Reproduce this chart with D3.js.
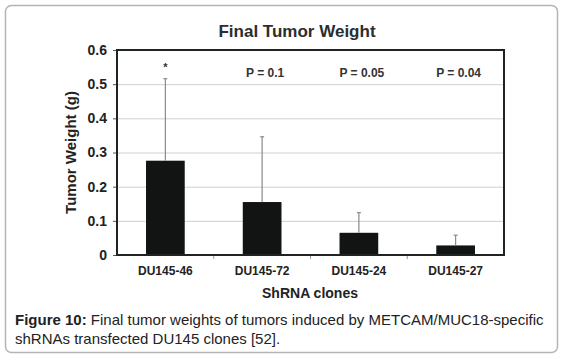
<!DOCTYPE html>
<html>
<head>
<meta charset="utf-8">
<script src="https://cdn.jsdelivr.net/npm/d3@7"></script>
<style>
  html, body { margin: 0; padding: 0; background: #fff; }
  svg { display: block; font-family: "Liberation Sans", Arial, sans-serif; }
</style>
</head>
<body>
<svg id="chart" width="565" height="363"></svg>
<script>
// ---- data ----
const categories = ["DU145-46", "DU145-72", "DU145-24", "DU145-27"];
const meanWeights = [0.276, 0.155, 0.065, 0.028];
const errorUpper = [0.240, 0.191, 0.059, 0.030];
const pLabels = ["*", "P = 0.1", "P = 0.05", "P = 0.04"];
const yTicks = [0, 0.1, 0.2, 0.3, 0.4, 0.5, 0.6];
const yTickLabels = ["0", "0.1", "0.2", "0.3", "0.4", "0.5", "0.6"];
const titleText = "Final Tumor Weight";
const xTitle = "ShRNA clones";
const yTitle = "Tumor Weight (g)";

const svg = d3.select("#chart");
const plot = { left: 117, right: 504, top: 50, bottom: 255 };

// outer rounded frame
svg.append("rect")
  .attr("x", 5.5).attr("y", 5.5)
  .attr("width", 552).attr("height", 347)
  .attr("rx", 6).attr("ry", 6)
  .attr("fill", "#fff")
  .attr("stroke", "#b4b4b4").attr("stroke-width", 1.5);

const x = d3.scaleBand()
  .domain(categories)
  .range([plot.left, plot.right])
  .paddingInner(0.6).paddingOuter(0.3);

const y = d3.scaleLinear().domain([0, 0.6]).range([plot.bottom, plot.top]);

// gridlines
svg.append("g").selectAll("line")
  .data(yTicks.filter(t => t > 0 && t < 0.6))
  .join("line")
  .attr("x1", plot.left).attr("x2", plot.right)
  .attr("y1", d => y(d) + 0.5).attr("y2", d => y(d) + 0.5)
  .attr("stroke", "#cfcfcf").attr("stroke-width", 1);

// bars
svg.append("g").selectAll("rect")
  .data(categories)
  .join("rect")
  .attr("x", d => x(d))
  .attr("y", (d, i) => y(meanWeights[i]))
  .attr("width", x.bandwidth())
  .attr("height", (d, i) => y(0) - y(meanWeights[i]))
  .attr("fill", "#121414");

// error bars
const eb = svg.append("g").attr("stroke", "#8a8a8a").attr("stroke-width", 1.2);
categories.forEach((c, i) => {
  const cx = x(c) + x.bandwidth() / 2;
  const top = y(meanWeights[i] + errorUpper[i]);
  eb.append("line")
    .attr("x1", cx).attr("x2", cx)
    .attr("y1", y(meanWeights[i])).attr("y2", top);
  eb.append("line")
    .attr("x1", cx - 2).attr("x2", cx + 2)
    .attr("y1", top).attr("y2", top);
});

// left axis
const yAxis = d3.axisLeft(y)
  .tickValues(yTicks)
  .tickFormat((d, i) => yTickLabels[i])
  .tickSize(4).tickPadding(6);
const gy = svg.append("g").attr("transform", `translate(${plot.left},0)`).call(yAxis);
gy.select(".domain").remove();
gy.selectAll(".tick line").attr("stroke", "#555");
gy.selectAll(".tick text")
  .attr("font-family", "Liberation Sans, Arial, sans-serif")
  .attr("font-size", 14).attr("font-weight", "bold").attr("fill", "#222");

// bottom axis
const xAxis = d3.axisBottom(x).tickSize(0).tickPadding(11);
const gx = svg.append("g").attr("transform", `translate(0,${plot.bottom})`).call(xAxis);
gx.select(".domain").remove();
gx.selectAll(".tick text")
  .attr("font-family", "Liberation Sans, Arial, sans-serif")
  .attr("font-size", 12).attr("font-weight", "bold").attr("fill", "#222");

// category separator ticks on bottom
const step = x.step();
const seps = categories.slice(1).map(c => x(c) - step * x.paddingInner() / 2);
svg.append("g").selectAll("line")
  .data(seps)
  .join("line")
  .attr("x1", d => d).attr("x2", d => d)
  .attr("y1", plot.bottom).attr("y2", plot.bottom + 4)
  .attr("stroke", "#999").attr("stroke-width", 1);

// plot frame
svg.append("rect")
  .attr("x", plot.left).attr("y", plot.top)
  .attr("width", plot.right - plot.left)
  .attr("height", plot.bottom - plot.top)
  .attr("fill", "none")
  .attr("stroke", "#1e2424").attr("stroke-width", 2);

// p-value labels
svg.append("g").selectAll("text")
  .data(categories)
  .join("text")
  .attr("x", (d, i) => x(d) + x.bandwidth() / 2 + (i === 0 ? 0 : 3))
  .attr("y", (d, i) => i === 0 ? 71 : 77)
  .attr("text-anchor", "middle")
  .attr("font-size", (d, i) => i === 0 ? 11 : 12)
  .attr("font-weight", "bold").attr("fill", "#333")
  .text((d, i) => pLabels[i]);

// chart title
svg.append("text")
  .attr("x", 297).attr("y", 37)
  .attr("text-anchor", "middle")
  .attr("font-size", 17).attr("font-weight", "bold").attr("fill", "#2a2e2e")
  .text(titleText);

// x title
svg.append("text")
  .attr("x", 310).attr("y", 298)
  .attr("text-anchor", "middle")
  .attr("font-size", 14).attr("font-weight", "bold").attr("fill", "#222")
  .text(xTitle);

// y title
svg.append("text")
  .attr("transform", `translate(76,${(plot.top + plot.bottom) / 2}) rotate(-90)`)
  .attr("text-anchor", "middle")
  .attr("font-size", 15).attr("font-weight", "bold").attr("fill", "#222")
  .text(yTitle);

// caption
const cap1 = svg.append("text").attr("x", 15).attr("y", 325)
  .attr("font-size", 15).attr("fill", "#222");
cap1.append("tspan").attr("font-weight", "bold").text("Figure 10:");
cap1.append("tspan").text(" Final tumor weights of tumors induced by METCAM/MUC18-specific");
svg.append("text").attr("x", 15).attr("y", 344)
  .attr("font-size", 15).attr("fill", "#222")
  .text("shRNAs transfected DU145 clones [52].");
</script>
</body>
</html>
